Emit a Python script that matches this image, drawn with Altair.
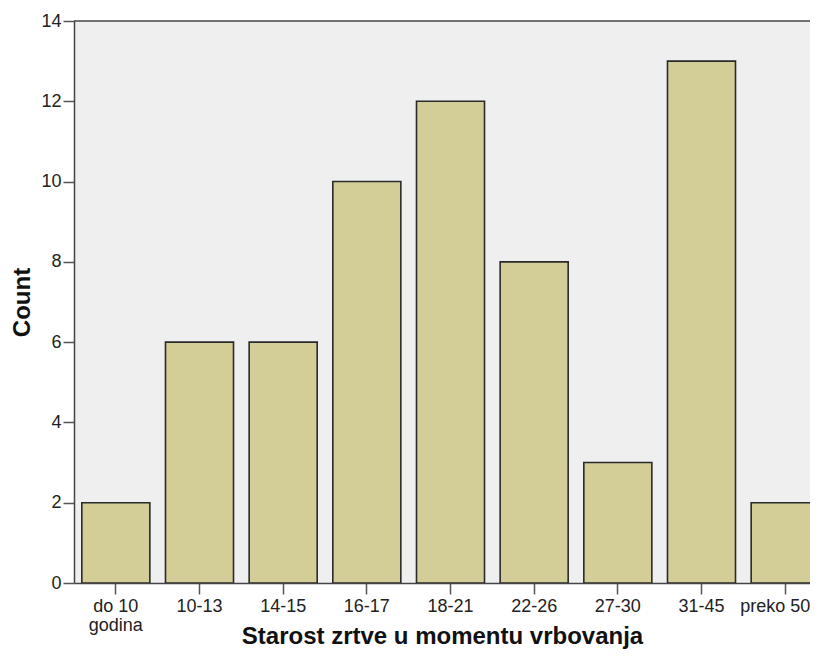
import altair as alt
import pandas as pd

categories = ["do 10 godina", "10-13", "14-15", "16-17", "18-21", "22-26", "27-30", "31-45", "preko 50"]
counts = [2, 6, 6, 10, 12, 8, 3, 13, 2]
y_ticks = [0, 2, 4, 6, 8, 10, 12, 14]

df = pd.DataFrame({"cat": categories, "count": counts})
top_df = pd.DataFrame({"top": [y_ticks[-1]]})

FONT = "Liberation Sans"

yscale = alt.Scale(domain=[0, 14], nice=False)

bars = alt.Chart(df).mark_bar(
    fill="#d3ce97", stroke="#2a2a2a", strokeWidth=1.6, clip=True
).encode(
    x=alt.X("cat:N", sort=categories,
            scale=alt.Scale(paddingInner=0.187, paddingOuter=0.0935, range=[0, 753]),
            axis=alt.Axis(title="Starost zrtve u momentu vrbovanja", labelAngle=0,
                          labelExpr="datum.value == 'do 10 godina' ? ['do 10', 'godina'] : datum.label",
                          labelOffset={"condition": {"test": "datum.value === 'preko 50'", "value": -10},
                                       "value": 0},
                          labelLineHeight=19, tickSize=11, labelPadding=3,
                          titleX=368, titleY=41)),
    y=alt.Y("count:Q", scale=yscale,
            axis=alt.Axis(title="Count", values=y_ticks, tickSize=11, labelPadding=2,
                          titlePadding=6)),
)

top_line = alt.Chart(top_df).mark_rule(color="#444444", strokeWidth=1.5).encode(
    y=alt.Y("top:Q", scale=yscale)
)

chart = alt.layer(bars, top_line).properties(
    width=736, height=562,
    autosize=alt.AutoSizeParams(type="none"),
    padding={"left": 66, "top": 13, "right": 0, "bottom": 66},
).configure_view(
    fill="#efefef", strokeWidth=0
).configure_axis(
    grid=False, domainColor="#444444", domainWidth=1.5, tickColor="#555555", tickWidth=1.5,
    labelFont=FONT, labelFontSize=18, labelColor="#222222",
    titleFont=FONT, titleFontSize=24, titleFontWeight="bold", titleColor="#111111",
)

chart.save("out.html", embed_options={"renderer": "svg", "actions": False})
